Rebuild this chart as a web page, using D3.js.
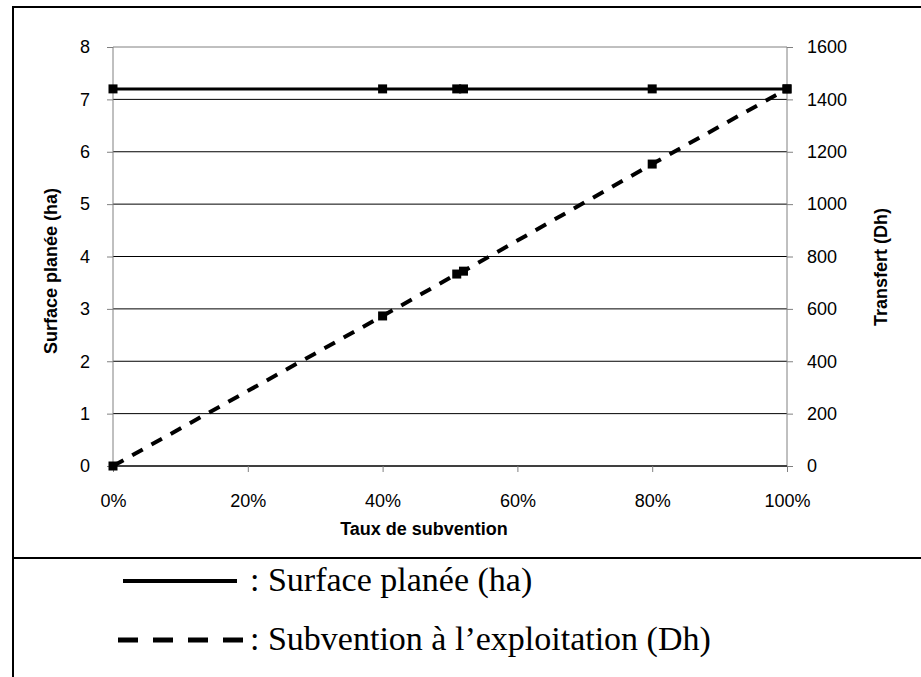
<!doctype html>
<html>
<head>
<meta charset="utf-8">
<title>Surface planée et subvention</title>
<script src="https://d3js.org/d3.v7.min.js"></script>
<style>
  body { margin: 0; background: #fff; }
  svg { display: block; }
  .tick text { font-family: "Liberation Sans", Arial, sans-serif; font-size: 18px; fill: #000; }
</style>
</head>
<body>
<svg id="chart" width="921" height="677"></svg>
<script>
// taux de subvention (fraction)
const taux = [0, 0.40, 0.51, 0.52, 0.80, 1.00]
const surface = [7.2, 7.2, 7.2, 7.2, 7.2, 7.2]
const transfert = [0, 573, 733, 744, 1153, 1440]
const leftTicks = [0, 1, 2, 3, 4, 5, 6, 7, 8]
const rightTicks = [0, 200, 400, 600, 800, 1000, 1200, 1400, 1600]
const xTicks = [0, 0.2, 0.4, 0.6, 0.8, 1.0]
const legendLabels = [': Surface planée (ha)', ': Subvention à l’exploitation (Dh)']

const svg = d3.select('#chart')
const margin = { left: 113, right: 921 - 787, top: 47, bottom: 677 - 466 }
const width = 921 - margin.left - margin.right
const height = 677 - margin.top - margin.bottom

// outer frame
svg.append('path')
  .attr('d', 'M13,677 V7 H921 M13,558 H921')
  .attr('fill', 'none').attr('stroke', '#000').attr('stroke-width', 2)

const g = svg.append('g').attr('transform', `translate(${margin.left},${margin.top})`)

const x = d3.scaleLinear().domain([0, 1]).range([0, width])
const yL = d3.scaleLinear().domain([0, 8]).range([height, 0])
const yR = d3.scaleLinear().domain([0, 1600]).range([height, 0])

// grid lines
g.append('g').selectAll('line').data(leftTicks).join('line')
  .attr('x1', 0).attr('x2', width)
  .attr('y1', d => yL(d)).attr('y2', d => yL(d))
  .attr('stroke', d => d === 8 ? '#808080' : '#000').attr('stroke-width', 1)

const styleAxis = (sel) => {
  sel.selectAll('.domain').attr('stroke', '#808080')
  sel.selectAll('.tick line').attr('stroke', '#808080')
}

g.append('g')
  .call(d3.axisLeft(yL).tickValues(leftTicks).tickSize(6).tickPadding(17).tickFormat(d3.format('d')))
  .call(styleAxis)
  .call(s => s.select('.domain').attr('d', `M0,${height}V0`))

g.append('g')
  .attr('transform', `translate(${width},0)`)
  .call(d3.axisRight(yR).tickValues(rightTicks).tickSize(6).tickPadding(14).tickFormat(d3.format('d')))
  .call(styleAxis)
  .call(s => s.select('.domain').attr('d', `M0,${height}V0`))

g.append('g')
  .attr('transform', `translate(0,${height})`)
  .call(d3.axisBottom(x).tickValues(xTicks).tickSize(6).tickPadding(22).tickFormat(d3.format('.0%')))
  .call(styleAxis)
  .call(s => s.select('.domain').attr('stroke', '#000').attr('d', `M0,0H${width}`))

// axis titles
const bold = { 'font-family': '"Liberation Sans", Arial, sans-serif', 'font-size': '18px', 'font-weight': 'bold' }
const addText = (sel, attrs) => { Object.entries(attrs).forEach(([k, v]) => sel.attr(k, v)); return sel }
addText(svg.append('text'), bold).attr('x', 424).attr('y', 535).attr('text-anchor', 'middle').text('Taux de subvention')
addText(svg.append('text'), bold).attr('transform', 'translate(57,271) rotate(-90)').attr('text-anchor', 'middle').text('Surface planée (ha)')
addText(svg.append('text'), bold).attr('transform', 'translate(887,267) rotate(-90)').attr('text-anchor', 'middle').text('Transfert (Dh)')

// series
const surfData = taux.map((t, i) => ({ x: t, y: surface[i] }))
const transData = taux.map((t, i) => ({ x: t, y: transfert[i] }))

g.append('path').datum(transData)
  .attr('fill', 'none').attr('stroke', '#000').attr('stroke-width', 4)
  .attr('stroke-dasharray', '12,10')
  .attr('d', d3.line().x(d => x(d.x)).y(d => yR(d.y)))

g.append('path').datum(surfData)
  .attr('fill', 'none').attr('stroke', '#000').attr('stroke-width', 3)
  .attr('d', d3.line().x(d => x(d.x)).y(d => yL(d.y)))

const ms = 9
g.append('g').selectAll('rect').data(surfData).join('rect')
  .attr('x', d => x(d.x) - ms / 2).attr('y', d => yL(d.y) - ms / 2)
  .attr('width', ms).attr('height', ms).attr('fill', '#000')
g.append('g').selectAll('rect').data(transData).join('rect')
  .attr('x', d => x(d.x) - ms / 2).attr('y', d => yR(d.y) - ms / 2)
  .attr('width', ms).attr('height', ms).attr('fill', '#000')

// legend
const leg = svg.append('g')
leg.append('line').attr('x1', 123).attr('x2', 237).attr('y1', 581).attr('y2', 581)
  .attr('stroke', '#000').attr('stroke-width', 4)
leg.append('line').attr('x1', 118).attr('x2', 243).attr('y1', 640).attr('y2', 640)
  .attr('stroke', '#000').attr('stroke-width', 5).attr('stroke-dasharray', '20,15')
leg.selectAll('text').data(legendLabels).join('text')
  .attr('x', 250).attr('y', (d, i) => 591 + i * 59)
  .attr('font-family', '"Liberation Serif", "Times New Roman", serif')
  .attr('font-size', '34px')
  .text(d => d)
</script>
</body>
</html>
